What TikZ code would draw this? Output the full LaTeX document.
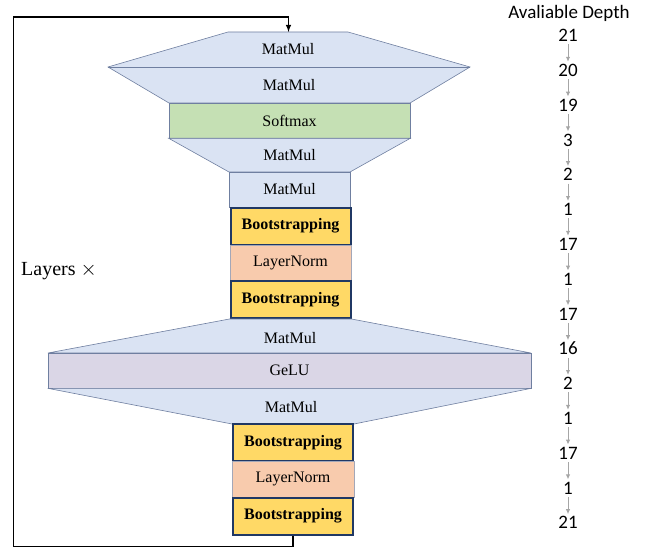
\documentclass[tikz,border=0pt]{standalone}
\usepackage{fontspec}
\setmainfont{Liberation Serif}
\newfontfamily\depthfont{Carlito}
\usetikzlibrary{arrows.meta}
\definecolor{dae3f3}{HTML}{DAE3F3}
\definecolor{c5e0b4}{HTML}{C5E0B4}
\definecolor{ffd966}{HTML}{FFD966}
\definecolor{f8cbad}{HTML}{F8CBAD}
\definecolor{dad6e6}{HTML}{DAD6E6}
\definecolor{6f7fa0}{HTML}{6F7FA0}
\definecolor{203864}{HTML}{203864}
\definecolor{a3a7b8}{HTML}{A3A7B8}
\definecolor{a6a6a6}{HTML}{A6A6A6}
\tikzset{
    op/.style={draw=6f7fa0,line width=.6pt,inner sep=0,font=\fontsize{16}{19}\selectfont},
    boot/.style={op,fill=ffd966,draw=203864,line width=2pt,font=\fontsize{16}{19}\selectfont\bfseries},
    lnorm/.style={op,fill=f8cbad,draw=a3a7b8},
    lbl/.style={inner sep=0,font=\fontsize{16}{19}\selectfont},
    depth/.style={inner sep=2.5pt,text height=12pt,text depth=0pt,font=\depthfont\fontsize{19}{22}\selectfont},
}
\begin{document}
\begin{tikzpicture}[>=latex,x=1pt,y=-1pt]
    \newcommand{\DX}{568}
    \newcommand{\DY}{35.7}
    \newcommand{\DS}{34.8}
    \useasboundingbox(0,0)rectangle(655,548);
    % attention
    \draw[fill=dae3f3,draw=6f7fa0,line width=.6pt](228,32)--(348,32)--(470,67)--(410,103)--(169,103)--(108,67)--cycle;
    \draw[6f7fa0,line width=.6pt](108,67)--(470,67);
    \coordinate(in)at(288.5,32);
    \node[lbl](qk)at(288,49){MatMul};
    \node[lbl](v)at(289,85){MatMul};
    \node[op,fill=c5e0b4,minimum width=241,minimum height=35](sm)at(289.5,120.5){Softmax};
    \draw[fill=dae3f3,draw=6f7fa0,line width=.6pt](sm.south west)--(sm.south east)--(350,172)--(229,172)--cycle;
    \node[lbl](att)at(289.5,155){MatMul};
    \node[op,fill=dae3f3,minimum width=121,minimum height=35](proj)at(289.5,189.5){MatMul};
    \node[boot,minimum width=120,minimum height=37](bs1)at(290.5,226){Bootstrapping};
    \node[lnorm,minimum width=121,minimum height=36](ln1)at(290.5,263){LayerNorm};
    \node[boot,minimum width=120,minimum height=37](bs2)at(290.5,299.5){Bootstrapping};
    % feed forward
    \draw[fill=dae3f3,draw=6f7fa0,line width=.6pt](bs2.south west)--(bs2.south east)--(531,353)--(48,353)--cycle;
    \node[lbl](fc1)at(290,338){MatMul};
    \node[op,fill=dad6e6,minimum width=483,minimum height=35](gelu)at(289.5,370.5){GeLU};
    \draw[fill=dae3f3,draw=6f7fa0,line width=.6pt](gelu.south west)--(gelu.south east)--(354,424)--(232,424)--cycle;
    \node[lbl](fc2)at(291,407.5){MatMul};
    \node[boot,minimum width=120,minimum height=37](bs3)at(293,442.5){Bootstrapping};
    \node[lnorm,minimum width=122,minimum height=36](ln2)at(293,479){LayerNorm};
    \node[boot,minimum width=120,minimum height=37](bs4)at(293,516){Bootstrapping};
    % loop
    \draw[->,line width=1.4pt](bs4.south)--++(0,11)-|(13.5,17)-|(in);
    \node[inner sep=0,font=\fontsize{20}{24}\selectfont](loop)at(59,271.5){Layers $\times$};
    % depth
    \node[depth](title)at(569,12.7){Avaliable Depth};
    \foreach \d [count=\i from 0] in {21,20,19,3,2,1,17,1,17,16,2,1,17,1,21}{
        \node[depth](d\i)at(\DX,\DY+\DS*\i){\d};
    }
    \foreach \i [evaluate=\i as \j using int(\i+1)] in {0,...,13}{
        \draw[->,a6a6a6,line width=1pt,>={Latex[length=5pt,width=4.5pt]}](d\i.south)--(d\j.north);
    }
\end{tikzpicture}
\end{document}
